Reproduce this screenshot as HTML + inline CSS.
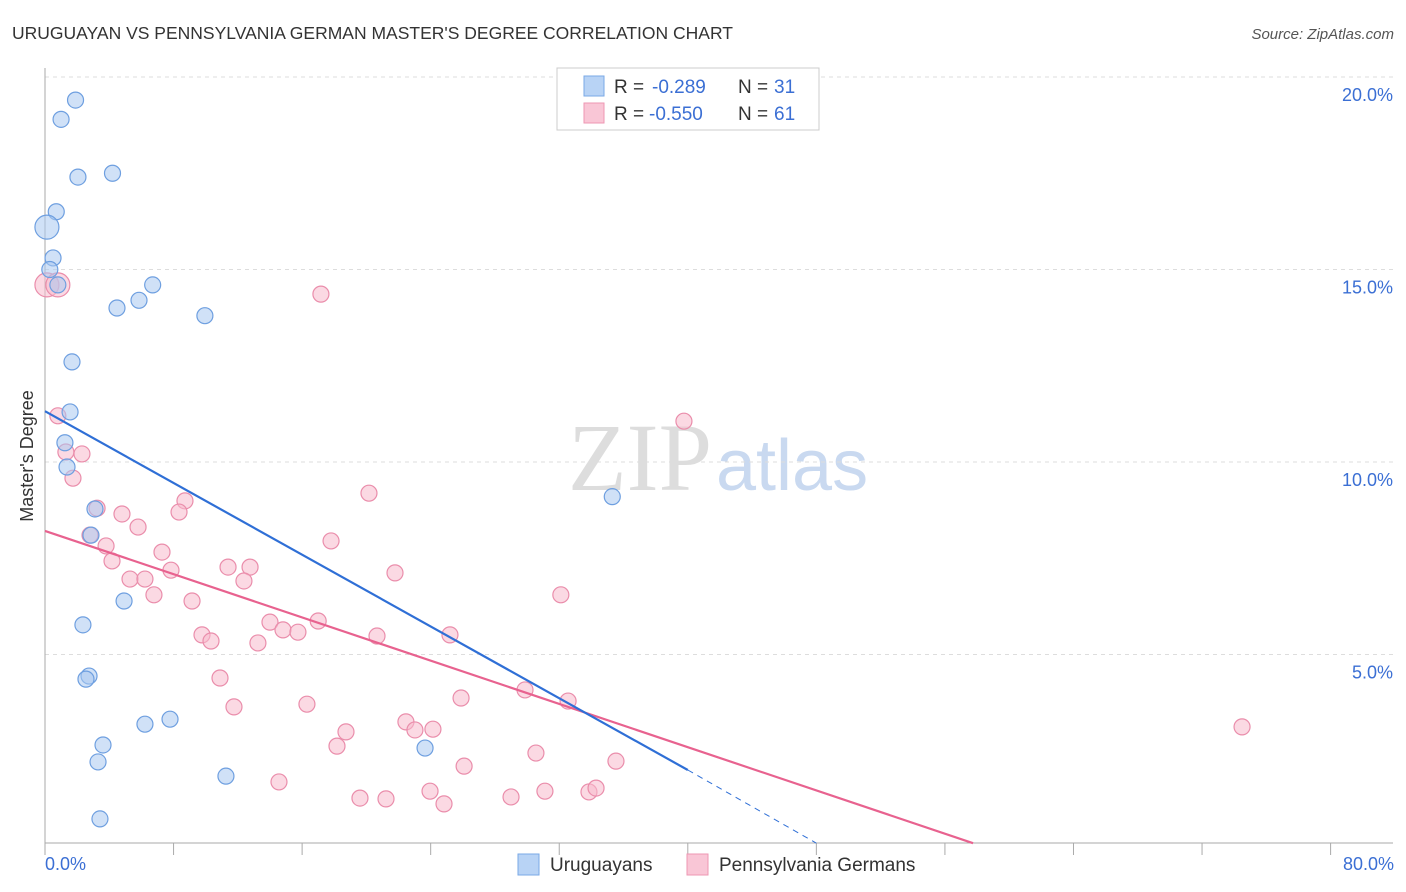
<!DOCTYPE html>
<html><head><meta charset="utf-8"><style>
body{margin:0;background:#fff;font-family:"Liberation Sans",sans-serif;}
svg{display:block}
</style></head><body>
<svg width="1406" height="892" viewBox="0 0 1406 892" xmlns="http://www.w3.org/2000/svg" id="chart">
<text x="12" y="39" font-size="17.5" fill="#333">URUGUAYAN VS PENNSYLVANIA GERMAN MASTER'S DEGREE CORRELATION CHART</text>
<text x="1394" y="39" font-size="15" fill="#555" text-anchor="end" font-style="italic">Source: ZipAtlas.com</text>
<text x="712" y="490" font-size="96" fill="#ddd" text-anchor="end" font-family="Liberation Serif,serif">ZIP</text>
<text x="716" y="490" font-size="72" fill="#c9d9f0">atlas</text>
<g id="grid"></g>
<g id="axes"></g>
<g id="marks"></g>
<text transform="translate(33,456) rotate(-90)" font-size="18" fill="#333" text-anchor="middle">Master's Degree</text>
<text x="45" y="870" font-size="18" fill="#3b6fd4">0.0%</text>
<text x="1394" y="870" font-size="18" fill="#3b6fd4" text-anchor="end">80.0%</text>
<g>
<rect x="557" y="68" width="262" height="62" fill="#fff" stroke="#ccc"/>
<rect x="584" y="76" width="20" height="20" fill="#b8d3f5" stroke="#7aa8e6"/>
<text x="614" y="93" font-size="19" fill="#333">R =</text>
<text x="652" y="93" font-size="19" fill="#3b6fd4">-0.289</text>
<text x="738" y="93" font-size="19" fill="#333">N =</text>
<text x="774" y="93" font-size="19" fill="#3b6fd4">31</text>
<rect x="584" y="103" width="20" height="20" fill="#f9c6d6" stroke="#ee97b3"/>
<text x="614" y="120" font-size="19" fill="#333">R =</text>
<text x="649" y="120" font-size="19" fill="#3b6fd4">-0.550</text>
<text x="738" y="120" font-size="19" fill="#333">N =</text>
<text x="774" y="120" font-size="19" fill="#3b6fd4">61</text>
</g>
<g>
<rect x="518" y="854" width="21" height="21" fill="#b8d3f5" stroke="#7aa8e6"/>
<text x="550" y="871" font-size="19" fill="#333">Uruguayans</text>
<rect x="687" y="854" width="21" height="21" fill="#f9c6d6" stroke="#ee97b3"/>
<text x="719" y="871" font-size="19" fill="#333">Pennsylvania Germans</text>
</g>
</svg>
<script>
const yTicks=[5,10,15,20];
const yTickLabels=["5.0%","10.0%","15.0%","20.0%"];
const blueX=[1.9,1.0,2.05,4.2,0.7,0.12,0.5,0.3,0.8,6.7,5.85,4.48,9.95,1.68,1.56,1.24,1.37,35.3,3.11,2.86,4.92,2.36,2.74,2.55,7.78,6.22,3.61,3.3,11.26,23.65,3.42];
const blueY=[19.4,18.9,17.4,17.5,16.5,16.1,15.3,15.0,14.6,14.6,14.2,14.0,13.8,12.6,11.3,10.5,9.87,9.1,8.78,8.1,6.39,5.77,4.44,4.36,3.32,3.19,2.65,2.21,1.84,2.57,0.73];
const pinkX=[0.12,0.8,17.17,0.8,39.76,1.3,2.3,1.74,3.24,8.71,8.34,4.79,20.16,5.79,2.8,3.8,4.17,17.8,7.28,7.84,11.39,12.76,5.29,6.22,12.38,21.78,6.78,9.15,32.1,14.0,17.0,14.81,15.74,20.66,9.77,10.33,13.25,25.2,10.89,16.3,11.76,25.89,29.87,32.55,22.46,18.73,23.02,24.14,18.17,30.55,35.53,26.08,14.56,19.6,21.22,23.96,24.83,29.0,31.11,33.85,34.29,74.49];
const pinkY=[14.6,14.6,14.36,11.2,11.06,10.26,10.21,9.58,8.8,8.99,8.7,8.65,9.19,8.31,8.1,7.82,7.43,7.95,7.66,7.19,7.27,7.27,6.96,6.96,6.91,7.12,6.55,6.39,6.55,5.84,5.87,5.64,5.58,5.48,5.51,5.35,5.3,5.51,4.39,3.71,3.64,3.87,4.08,3.79,3.25,2.99,3.04,3.06,2.62,2.44,2.23,2.1,1.69,1.27,1.25,1.45,1.12,1.3,1.45,1.43,1.53,3.12];
const blueLine=[[0,11.32],[40,2.0]];
const blueDash=[[40,2.0],[48,0.1]];
const pinkLine=[[0,8.21],[57.75,0.1]];
const NS="http://www.w3.org/2000/svg";
function sx(v){return 45+v*16.07;}
function sy(v){return 847-v*38.5;}
function mk(t,a,p){const e=document.createElementNS(NS,t);for(const k in a)e.setAttribute(k,a[k]);p.appendChild(e);return e;}
const grid=document.getElementById('grid'),axes=document.getElementById('axes'),marks=document.getElementById('marks');
yTicks.forEach((t,i)=>{
 const l=mk('line',{x1:45,x2:1393,y1:sy(t),y2:sy(t),stroke:'#ddd','stroke-dasharray':'4,4'},grid);
 
 
 const tx=mk('text',{x:1393,y:sy(t)+24,'font-size':18,fill:'#3b6fd4','text-anchor':'end'},grid);
 tx.textContent=yTickLabels[i];
 
 
});
const ya=mk('line',{x1:45,x2:45,y1:68,y2:843,stroke:'#aaa'},axes);


const xa=mk('line',{x1:45,x2:1393,y1:843,y2:843,stroke:'#aaa'},axes);


for(let i=0;i<=10;i++){const t=mk('line',{x1:sx(i*8),x2:sx(i*8),y1:843,y2:855,stroke:'#aaa'},axes);
 
 }
function dots(X,Y,fill,stroke,name){X.forEach((x,i)=>{
 const r=(i<2&&name==='pink-point')||(name==='blue-point'&&i===5)?12:8;
 const c=mk('circle',{cx:sx(x),cy:sy(Y[i]),r:r,fill:fill,'fill-opacity':0.55,stroke:stroke,'stroke-width':1.2},marks);
 
 
});}
dots(pinkX,pinkY,'#f7b9cc','#ea8dab','pink-point');
dots(blueX,blueY,'#a9c8f0','#6e9fe0','blue-point');
function line(L,col,dash,name){const e=mk('line',{x1:sx(L[0][0]),y1:sy(L[0][1]),x2:sx(L[1][0]),y2:sy(L[1][1]),stroke:col,'stroke-width':dash?1:2.2},marks);
 if(dash)e.setAttribute('stroke-dasharray','6,5');
 
 }
line(pinkLine,'#e8628f',false,'pink-trend-line');
line(blueLine,'#2f6fd6',false,'blue-trend-line');
line(blueDash,'#2f6fd6',true,'blue-trend-extension');
</script>
</body></html>
